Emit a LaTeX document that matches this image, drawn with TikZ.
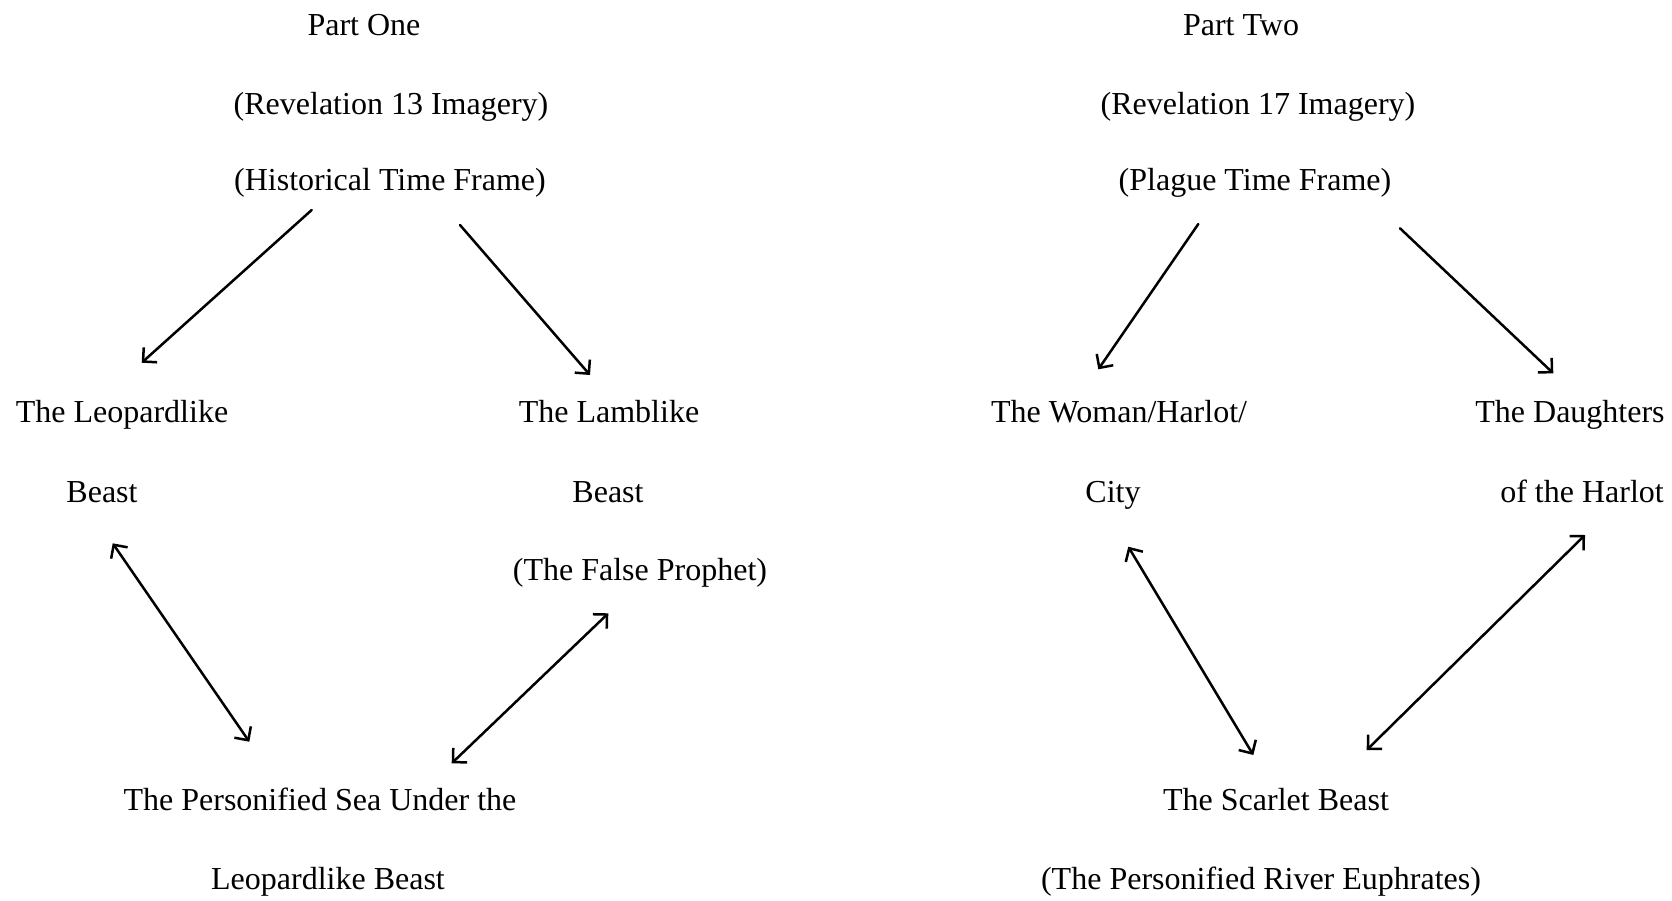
\documentclass[tikz,border=0pt]{standalone}
\usepackage{fontspec}
\setmainfont{Liberation Serif}
\usetikzlibrary{arrows.meta}
\begin{document}
\begin{tikzpicture}[x=1pt,y=-1pt,
  lbl/.style={inner sep=0pt,anchor=base,font=\fontsize{32}{38}\selectfont},
  barb/.tip={Straight Barb[length=10pt,width=20pt,line width=2.5pt]},
  conn/.style={line width=2.5pt,line cap=round,arrows={-barb}},
  both/.style={line width=2.5pt,line cap=round,arrows={barb-barb}}]
\useasboundingbox (0,0) rectangle (1672,900);
\fill[white] (0,0) rectangle (1672,900);

% Part One
\node[lbl] (p1a) at (364,35) {Part One};
\node[lbl] (p1b) at (391,114) {(Revelation 13 Imagery)};
\node[lbl] (p1c) at (390,190) {(Historical Time Frame)};
\node[lbl] (leo1) at (122,422) {The Leopardlike};
\node[lbl] (leo2) at (102,502) {Beast};
\node[lbl] (lam1) at (609,422) {The Lamblike};
\node[lbl] (lam2) at (608,502) {Beast};
\node[lbl] (lam3) at (640,580) {(The False Prophet)};
\node[lbl] (sea1) at (320,810.5) {The Personified Sea Under the};
\node[lbl] (sea2) at (328,889) {Leopardlike Beast};

% Part Two
\node[lbl] (p2a) at (1241,35) {Part Two};
\node[lbl] (p2b) at (1258,114) {(Revelation 17 Imagery)};
\node[lbl] (p2c) at (1255,190) {(Plague Time Frame)};
\node[lbl] (wom1) at (1119,422) {The Woman/Harlot/};
\node[lbl] (wom2) at (1113,502) {City};
\node[lbl] (dau1) at (1570,422) {The Daughters};
\node[lbl] (dau2) at (1582,502) {of the Harlot};
\node[lbl] (sca1) at (1276,810.5) {The Scarlet Beast};
\node[lbl] (sca2) at (1261,889) {(The Personified River Euphrates)};

% arrow end points
\coordinate (a1s) at (311.7,210);   \coordinate (a1e) at (141.7,362.7);
\coordinate (a2s) at (460,225);     \coordinate (a2e) at (590,375);
\coordinate (a3s) at (112.7,543.3); \coordinate (a3e) at (249.3,741.7);
\coordinate (a4s) at (608.3,613.3); \coordinate (a4e) at (451.7,763.3);
\coordinate (a5s) at (1198.3,224);  \coordinate (a5e) at (1098.3,369.3);
\coordinate (a6s) at (1400,228.3);  \coordinate (a6e) at (1553.3,373.3);
\coordinate (a7s) at (1128.3,546.7);\coordinate (a7e) at (1253.3,755);
\coordinate (a8s) at (1585,535);    \coordinate (a8e) at (1366.7,750);

\draw[conn] (a1s) -- (a1e);
\draw[conn] (a2s) -- (a2e);
\draw[both] (a3s) -- (a3e);
\draw[both] (a4s) -- (a4e);
\draw[conn] (a5s) -- (a5e);
\draw[conn] (a6s) -- (a6e);
\draw[both] (a7s) -- (a7e);
\draw[both] (a8s) -- (a8e);
\end{tikzpicture}
\end{document}
